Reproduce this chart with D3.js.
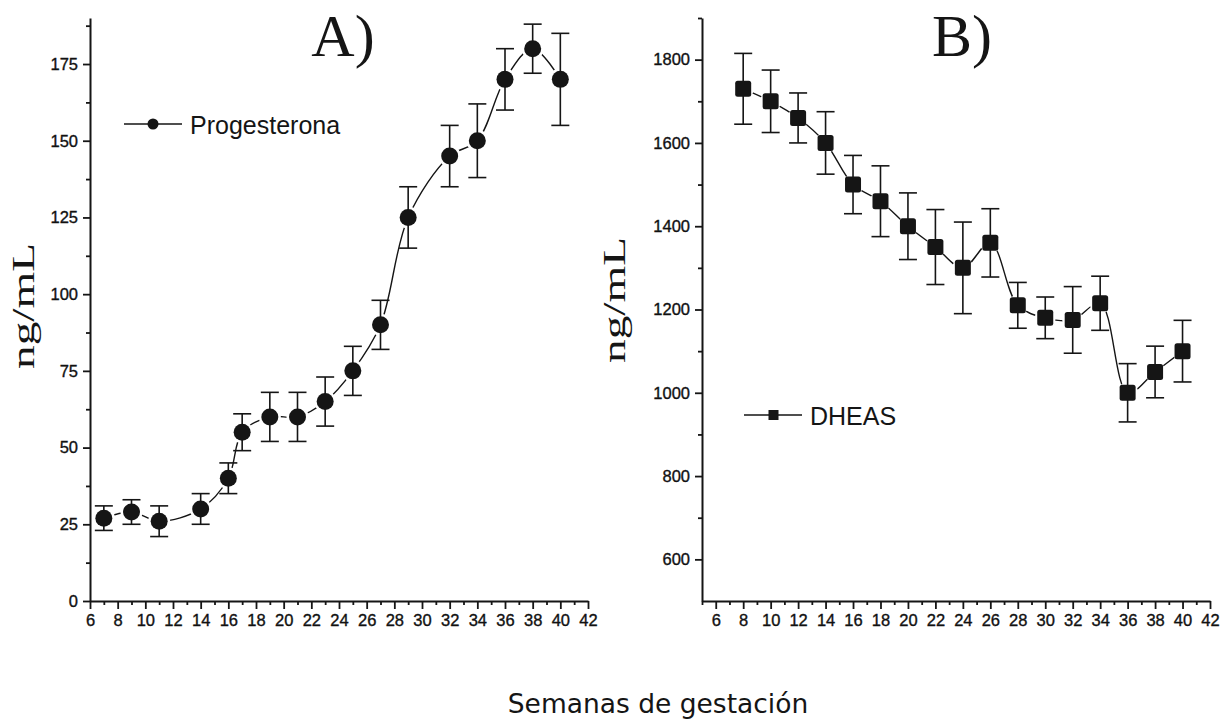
<!doctype html>
<html lang="es">
<head>
<meta charset="utf-8">
<title>Progesterona y DHEAS - semanas de gestación</title>
<script src="https://cdn.jsdelivr.net/npm/d3@7"></script>
<style>
  body { margin: 0; background: #fff; }
  svg { display: block; }
  .tick text { font-family: "Liberation Sans", Arial, sans-serif; font-size: 16.5px; fill: #111; stroke: #111; stroke-width: 0.35px; }
  .axis path, .axis line { stroke: #151515; }
</style>
</head>
<body>
<svg id="chart" width="1232" height="724"></svg>
<script>
// ---- data ----
const weeksA = [7, 9, 11, 14, 16, 17, 19, 21, 23, 25, 27, 29, 32, 34, 36, 38, 40];
const progesterona = [27, 29, 26, 30, 40, 55, 60, 60, 65, 75, 90, 125, 145, 150, 170, 180, 170];
const progesteronaErr = [4, 4, 5, 5, 5, 6, 8, 8, 8, 8, 8, 10, 10, 12, 10, 8, 15];

const weeksB = [8, 10, 12, 14, 16, 18, 20, 22, 24, 26, 28, 30, 32, 34, 36, 38, 40];
const dheas = [1730, 1700, 1660, 1600, 1500, 1460, 1400, 1350, 1300, 1360, 1210, 1180, 1175, 1215, 1000, 1050, 1100];
const dheasErr = [85, 75, 60, 75, 70, 85, 80, 90, 110, 82, 55, 50, 80, 65, 70, 62, 74];

const xTicks = [6, 8, 10, 12, 14, 16, 18, 20, 22, 24, 26, 28, 30, 32, 34, 36, 38, 40, 42];
const xMinorA = [7, 9, 11, 13, 15, 17, 19, 21, 23, 25, 27, 29, 31, 33, 35, 37, 39, 41];
const xMinorB = [5, 7, 9, 11, 13, 15, 17, 19, 21, 23, 25, 27, 29, 31, 33, 35, 37, 39, 41];
const yTicksA = [0, 25, 50, 75, 100, 125, 150, 175];
const yMinorA = [12.5, 37.5, 62.5, 87.5, 112.5, 137.5, 162.5, 187.5];
const yTicksB = [600, 800, 1000, 1200, 1400, 1600, 1800];
const yMinorB = [700, 900, 1100, 1300, 1500, 1700, 1900];

const ink = "#151515";
const svg = d3.select("#chart");

function drawPanel(o) {
  const x = d3.scaleLinear().domain(o.xDomain).range(o.xRange);
  const y = d3.scaleLinear().domain(o.yDomain).range([601, 18]);
  const g = svg.append("g");

  // axes: minor ticks first, then majors with labels
  g.append("g").attr("class", "axis").attr("transform", "translate(0,601)")
    .call(d3.axisBottom(x).tickValues(o.xMinor).tickSize(4).tickSizeOuter(0).tickFormat(""))
    .call(a => a.select(".domain").remove());
  g.append("g").attr("class", "axis").attr("transform", "translate(0,601)")
    .call(d3.axisBottom(x).tickValues(xTicks).tickSize(8).tickSizeOuter(0).tickPadding(5).tickFormat(d3.format("d")))
    .call(a => a.select(".domain").attr("stroke-width", 2));
  g.append("g").attr("class", "axis").attr("transform", `translate(${o.xRange[0]},0)`)
    .call(d3.axisLeft(y).tickValues(o.yMinor).tickSize(4).tickSizeOuter(0).tickFormat(""))
    .call(a => a.select(".domain").remove());
  g.append("g").attr("class", "axis").attr("transform", `translate(${o.xRange[0]},0)`)
    .call(d3.axisLeft(y).tickValues(o.yTicks).tickSize(7).tickSizeOuter(0).tickPadding(5).tickFormat(d3.format("d")))
    .call(a => a.select(".domain").attr("stroke-width", 2));
  g.selectAll(".tick line").attr("stroke-width", 1.8);

  const pts = o.weeks.map((w, i) => ({ w: w, v: o.values[i], e: o.errs[i] }));

  // smooth connecting line
  const line = d3.line().x(d => x(d.w)).y(d => y(d.v)).curve(d3.curveCatmullRom.alpha(0.5));
  g.append("path").datum(pts).attr("d", line)
    .attr("fill", "none").attr("stroke", ink).attr("stroke-width", 1.4);

  // small white gap where the line meets each marker
  g.selectAll(".gap").data(pts).join("circle")
    .attr("cx", d => x(d.w)).attr("cy", d => y(d.v)).attr("r", o.markerR + 2.5)
    .attr("fill", "#fff");

  // error bars
  const eb = g.selectAll(".eb").data(pts).join("g");
  eb.append("line")
    .attr("x1", d => x(d.w)).attr("x2", d => x(d.w))
    .attr("y1", d => y(d.v - d.e)).attr("y2", d => y(d.v + d.e));
  eb.append("line")
    .attr("x1", d => x(d.w) - 9).attr("x2", d => x(d.w) + 9)
    .attr("y1", d => y(d.v + d.e)).attr("y2", d => y(d.v + d.e));
  eb.append("line")
    .attr("x1", d => x(d.w) - 9).attr("x2", d => x(d.w) + 9)
    .attr("y1", d => y(d.v - d.e)).attr("y2", d => y(d.v - d.e));
  eb.selectAll("line").attr("stroke", ink).attr("stroke-width", 1.6);

  // markers
  if (o.shape === "circle") {
    g.selectAll(".mk").data(pts).join("circle")
      .attr("cx", d => x(d.w)).attr("cy", d => y(d.v)).attr("r", o.markerR).attr("fill", ink);
  } else {
    g.selectAll(".mk").data(pts).join("rect")
      .attr("x", d => x(d.w) - o.markerR).attr("y", d => y(d.v) - o.markerR)
      .attr("width", o.markerR * 2).attr("height", o.markerR * 2).attr("rx", 2.5).attr("fill", ink);
  }

  // panel letter
  g.append("text").attr("x", o.titleX).attr("y", 56).attr("text-anchor", "middle")
    .attr("font-family", "'Liberation Serif', 'Times New Roman', serif").attr("font-size", 60)
    .attr("fill", ink).text(o.title);

  // y axis title
  g.append("text").attr("transform", `translate(${o.yTitleX},${o.yTitleY}) rotate(-90)`)
    .attr("text-anchor", "middle")
    .attr("font-family", "'Liberation Serif', 'Times New Roman', serif").attr("font-size", 32)
    .attr("textLength", 126).attr("lengthAdjust", "spacingAndGlyphs")
    .attr("fill", ink).text("ng/mL");

  // legend
  const lg = g.append("g");
  lg.append("line").attr("x1", o.legX).attr("x2", o.legX + 58).attr("y1", o.legY).attr("y2", o.legY)
    .attr("stroke", ink).attr("stroke-width", 1.4);
  if (o.shape === "circle") {
    lg.append("circle").attr("cx", o.legX + 29).attr("cy", o.legY).attr("r", 5.5).attr("fill", ink);
  } else {
    lg.append("rect").attr("x", o.legX + 24.5).attr("y", o.legY - 5).attr("width", 10).attr("height", 10)
      .attr("fill", ink);
  }
  lg.append("text").attr("x", o.legX + 66).attr("y", o.legY + 10)
    .attr("font-family", "'Liberation Sans', Arial, sans-serif").attr("font-size", 25)
    .attr("fill", ink).text(o.label);
}

drawPanel({
  xDomain: [6, 42], xRange: [90, 588], yDomain: [0, 190],
  xMinor: xMinorA, yTicks: yTicksA, yMinor: yMinorA,
  weeks: weeksA, values: progesterona, errs: progesteronaErr,
  shape: "circle", markerR: 8.5,
  title: "A)", titleX: 343, yTitleX: 34, yTitleY: 306,
  legX: 124, legY: 124, label: "Progesterona"
});

drawPanel({
  xDomain: [5, 42], xRange: [702, 1210], yDomain: [500, 1900],
  xMinor: xMinorB, yTicks: yTicksB, yMinor: yMinorB,
  weeks: weeksB, values: dheas, errs: dheasErr,
  shape: "square", markerR: 8,
  title: "B)", titleX: 962, yTitleX: 625, yTitleY: 300,
  legX: 744, legY: 415, label: "DHEAS"
});

// shared x axis title
svg.append("text").attr("x", 658).attr("y", 713).attr("text-anchor", "middle")
  .attr("font-family", "'DejaVu Sans', Verdana, sans-serif").attr("font-size", 26.5)
  .attr("fill", ink).text("Semanas de gestación");
</script>
</body>
</html>
